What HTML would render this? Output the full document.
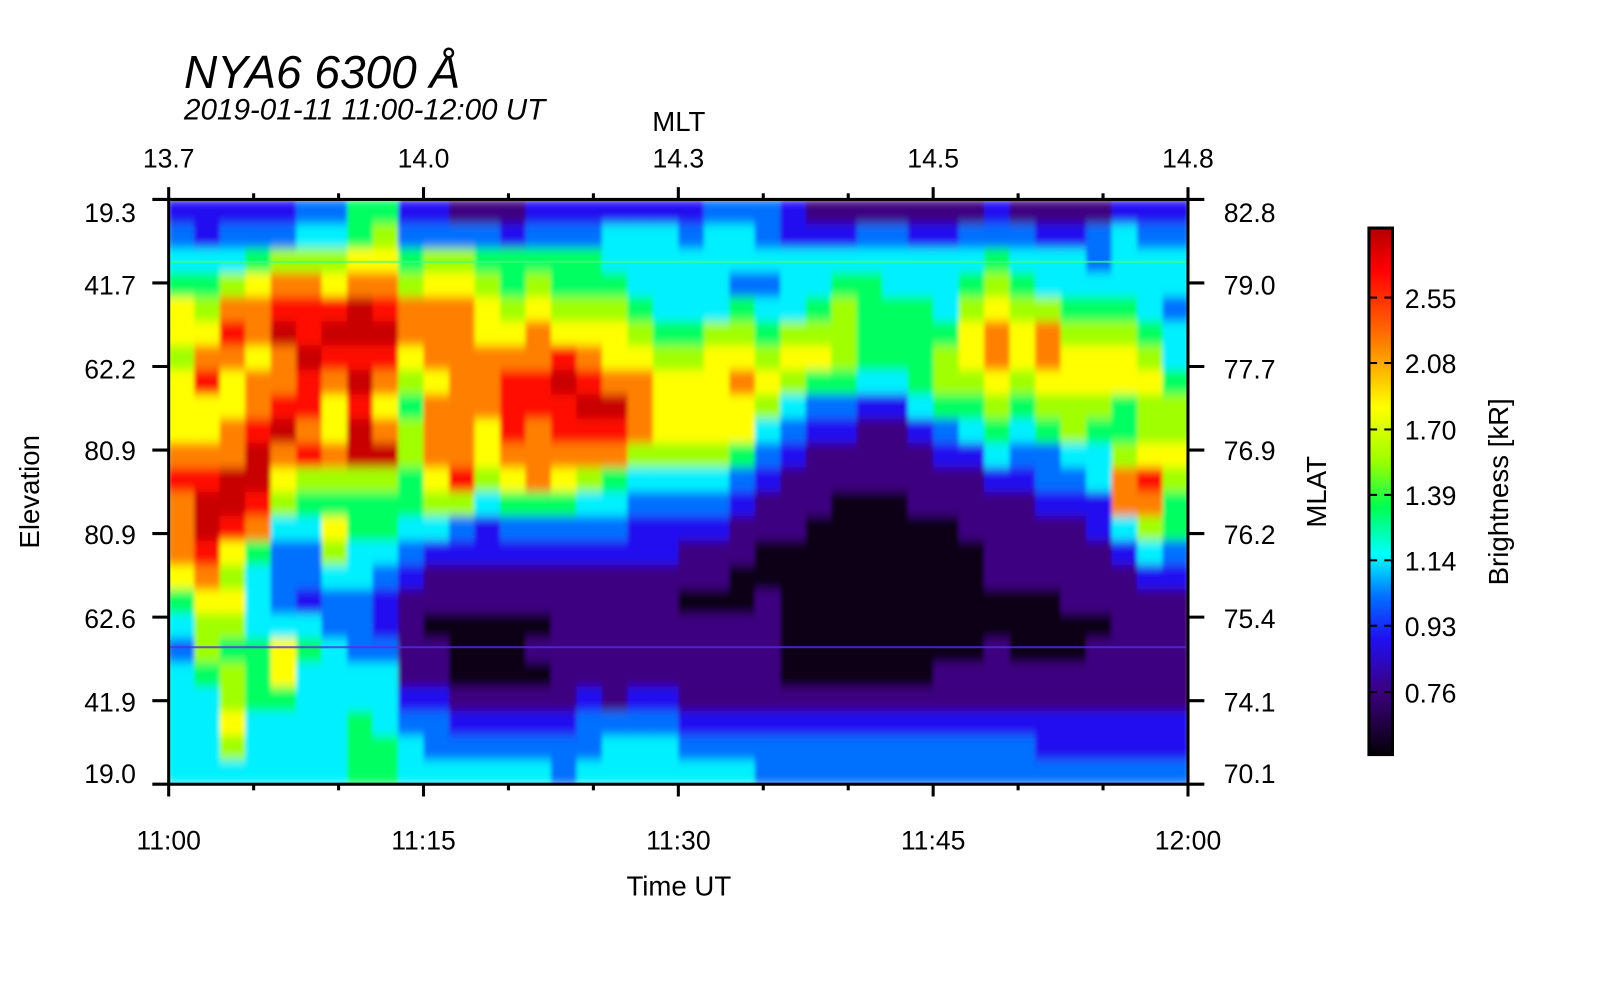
<!DOCTYPE html>
<html><head><meta charset="utf-8">
<style>
html,body{margin:0;padding:0;background:#fff;}
body{width:1600px;height:1000px;overflow:hidden;font-family:"Liberation Sans",sans-serif;}
svg text{font-family:"Liberation Sans",sans-serif;fill:#000;}
</style></head>
<body>
<svg id="chart" width="1600" height="1000" viewBox="0 0 1565 978" xmlns="http://www.w3.org/2000/svg">
  <defs>
    <filter id="soft" filterUnits="userSpaceOnUse" x="165" y="195" width="997" height="572">
      <feGaussianBlur stdDeviation="2 5" edgeMode="duplicate"/>
    </filter>
    <clipPath id="plotclip"><rect x="165" y="195" width="997" height="572"/></clipPath>
    <linearGradient id="cbgrad" x1="0" y1="0" x2="0" y2="1">
      <stop offset="0" stop-color="#b00000"/>
      <stop offset="0.08" stop-color="#ff0000"/>
      <stop offset="0.22" stop-color="#ff8000"/>
      <stop offset="0.34" stop-color="#ffff00"/>
      <stop offset="0.44" stop-color="#a0ff00"/>
      <stop offset="0.53" stop-color="#00ff50"/>
      <stop offset="0.62" stop-color="#00ffff"/>
      <stop offset="0.70" stop-color="#0070ff"/>
      <stop offset="0.78" stop-color="#2010f0"/>
      <stop offset="0.88" stop-color="#3c0080"/>
      <stop offset="1" stop-color="#050008"/>
    </linearGradient>
  </defs>
  <g clip-path="url(#plotclip)"><g id="heatmap" filter="url(#soft)"></g></g>
  <g id="axes"></g>
  <text x="180" y="86" font-size="45" font-style="italic">NYA6 6300 Å</text>
  <text x="180" y="117" font-size="29" font-style="italic">2019-01-11 11:00-12:00 UT</text>
  <text x="664" y="128" font-size="27" text-anchor="middle">MLT</text>
  <text x="664" y="876" font-size="27" text-anchor="middle">Time UT</text>
  <text transform="translate(38,481) rotate(-90)" font-size="27" text-anchor="middle">Elevation</text>
  <text transform="translate(1297,481) rotate(-90)" font-size="27" text-anchor="middle">MLAT</text>
  <rect x="1339" y="223" width="23" height="515" fill="url(#cbgrad)" stroke="#000" stroke-width="3"/>
  <g id="cbticks"></g>
  <text transform="translate(1475,481) rotate(-90)" font-size="27" text-anchor="middle">Brightness [kR]</text>
</svg>
<script>
// Keogram data: brightness level per time column (top row -> bottom row), 0..a
const keogramColumns = [
"234577677789888754344444","224567897789aa9876654444","23468987788aa97676566764","2357887889aa985444555444",
"23689a889a87643334775444","346899a99896543324544444","34679a987786576433444444","5578aa9a9aa6554433344555",
"56789a9878a6554322344455","235688765665543211112344","236788878887642110112334","136788888889632110001234",
"135677888776422110001234","125567899987532110001234","235678899888532110101234","2355679a9987532111111233",
"23556789a986432111112334","24456778a985432111111344","244456788864322111112344","244445677764322111112344",
"234445677764321101111234","344446777764321101111234","344356787753211001111234","334345676432110011111233",
"224446764321110000001233","124456753211100000001233","124566653211000000001233","134555542111000000001233",
"134455542111000000001233","124455554211100000001233","124445665321100000011233","134567765421110000011233",
"235678876542111100111233","134567765432111100011233","124468876533211100011223","124456776643211110011223",
"133456776544221110111223","244456775568842111111223","234445676679864211111223","234434456676553211111223"
];
const levelBrightness = [0.5,0.68,0.85,1.03,1.26,1.52,1.85,2.08,2.3,2.6,2.9];
const levelColors = ["#0a0012","#3c0080","#2010f0","#0070ff","#00f0ff","#00ff60","#a0ff00","#ffff00","#ff8000","#ff1000","#c80000"];
const xTickLabels = ["11:00","11:15","11:30","11:45","12:00"];
const topTickLabels = ["13.7","14.0","14.3","14.5","14.8"];
const leftTickLabels = ["19.3","41.7","62.2","80.9","80.9","62.6","41.9","19.0"];
const rightTickLabels = ["82.8","79.0","77.7","76.9","76.2","75.4","74.1","70.1"];
const cbTickValues = [2.55,2.08,1.70,1.39,1.14,0.93,0.76];
const cbTickLabels = ["2.55","2.08","1.70","1.39","1.14","0.93","0.76"];

const NS="http://www.w3.org/2000/svg";
const PX0=165, PX1=1162, PY0=195, PY1=767;
const nCols=keogramColumns.length, nRows=24;
function xScale(i){return PX0+(PX1-PX0)*i/nCols;}
function yScale(j){return PY0+(PY1-PY0)*j/nRows;}
function mk(tag,attrs,parent){const e=document.createElementNS(NS,tag);for(const k in attrs)e.setAttribute(k,attrs[k]);parent.appendChild(e);return e;}

const hm=document.getElementById('heatmap');
keogramColumns.forEach((col,i)=>{
  for(let j=0;j<nRows;j++){
    const lv=parseInt(col[j],16);
    const r=mk('rect',{x:xScale(i),y:yScale(j),width:(xScale(i+1)-xScale(i))+0.6,height:(yScale(j+1)-yScale(j))+0.6,fill:levelColors[lv]},hm);
    
    
  }
});
const ax=document.getElementById('axes');
const l1=mk('rect',{x:PX0,y:255,width:PX1-PX0,height:2,fill:"#40ff80",opacity:0.7},ax);


const l2=mk('rect',{x:PX0,y:632,width:PX1-PX0,height:2,fill:"#5030e0",opacity:0.8},ax);



const frame=mk('rect',{x:PX0,y:PY0,width:PX1-PX0,height:PY1-PY0,fill:"none",stroke:"#000","stroke-width":3},ax);


for(let k=0;k<=12;k++){
  const x=PX0+(PX1-PX0)*k/12, major=(k%3===0);
  const len=major?12:6;
  mk('line',{x1:x,y1:PY1,x2:x,y2:PY1+len,stroke:"#000","stroke-width":3},ax);
  mk('line',{x1:x,y1:PY0,x2:x,y2:PY0-len,stroke:"#000","stroke-width":3},ax);
}
xTickLabels.forEach((t,i)=>{
  const x=PX0+(PX1-PX0)*i/(xTickLabels.length-1);
  const e=mk('text',{x:x,y:831,"font-size":26,"text-anchor":"middle"},ax);e.textContent=t;
  
  
});
topTickLabels.forEach((t,i)=>{
  const x=PX0+(PX1-PX0)*i/(topTickLabels.length-1);
  const e=mk('text',{x:x,y:164,"font-size":26,"text-anchor":"middle"},ax);e.textContent=t;
  
  
});
const labY=[217,288,370,450,532,614,696,766];
leftTickLabels.forEach((t,i)=>{
  const y=PY0+(PY1-PY0)*i/(leftTickLabels.length-1);
  mk('line',{x1:PX0,y1:y,x2:PX0-16,y2:y,stroke:"#000","stroke-width":3},ax);
  mk('line',{x1:PX1,y1:y,x2:PX1+16,y2:y,stroke:"#000","stroke-width":3},ax);
  const e=mk('text',{x:133,y:labY[i],"font-size":26,"text-anchor":"end"},ax);e.textContent=t;
  
  
  const r=mk('text',{x:1197,y:labY[i],"font-size":26},ax);r.textContent=rightTickLabels[i];
  
  
});
const cbt=document.getElementById('cbticks');
const cbPos=[291,355,420,484,548,612,677];
function cbScale(v){
  for(let i=0;i<cbTickValues.length-1;i++){
    const a=cbTickValues[i],b=cbTickValues[i+1];
    if(v<=a&&v>=b)return cbPos[i]+(cbPos[i+1]-cbPos[i])*(a-v)/(a-b);
  }
  return v>cbTickValues[0]?cbPos[0]:cbPos[cbPos.length-1];
}
cbTickValues.forEach((v,i)=>{
  const y=cbScale(v);
  mk('line',{x1:1339,y1:y,x2:1347,y2:y,stroke:"#000","stroke-width":2},cbt);
  mk('line',{x1:1354,y1:y,x2:1362,y2:y,stroke:"#000","stroke-width":2},cbt);
  const e=mk('text',{x:1374,y:y+10,"font-size":26},cbt);e.textContent=cbTickLabels[i];
  
  
});
</script>
</body></html>
